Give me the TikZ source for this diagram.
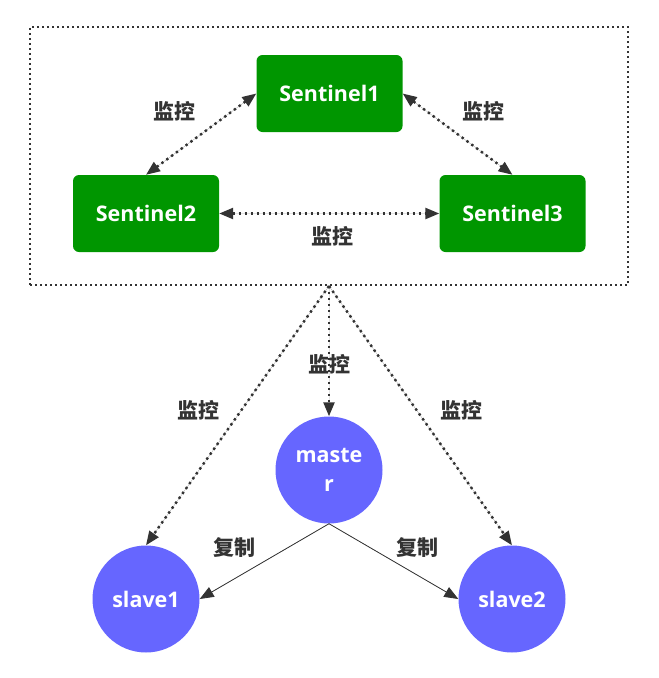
\documentclass[tikz,border=0pt]{standalone}
\usepackage{fontspec}
\setmainfont{Open Sans}
\newfontfamily\cjk{Noto Sans CJK SC}
\usetikzlibrary{arrows.meta}
\definecolor{sentgreen}{RGB}{0,150,0}
\definecolor{nodeblue}{RGB}{102,102,255}
\definecolor{ink}{RGB}{51,51,51}
\begin{document}
\begin{tikzpicture}[x=1pt,y=-1pt,
  sentinel/.style={draw=none,fill=sentgreen,rounded corners=6pt,minimum width=146pt,minimum height=77pt,
    text=white,font=\fontsize{21.5}{24}\selectfont\bfseries,inner sep=0pt},
  redis/.style={circle,fill=nodeblue,minimum size=107pt,inner sep=0pt,text=white,
    font=\fontsize{21.5}{29}\selectfont\bfseries,align=center},
  frame/.style={draw=ink,line width=2pt,dash pattern=on 2pt off 3pt,minimum width=598pt,minimum height=258pt,inner sep=0pt},
  tip/.style={-{Triangle[length=14pt,width=11pt]}},
  twotip/.style={{Triangle[length=14pt,width=11pt]}-{Triangle[length=14pt,width=11pt]}},
  monitor/.style={draw=ink,fill=ink,line width=2.4pt,dash pattern=on 2.4pt off 3.6pt},
  copyline/.style={draw=ink,fill=ink,line width=0.8pt},
  lbl/.style={text=ink,font=\cjk\fontsize{21}{24}\selectfont\bfseries,inner sep=0pt}]
\useasboundingbox (0,0) rectangle (659,678);

% Sentinel group
\node[frame] (box) at (329,156) {};
\node[sentinel] (s1) at (329.5,93.5) {Sentinel1};
\node[sentinel] (s2) at (146,213.5) {Sentinel2};
\node[sentinel] (s3) at (512.5,213.5) {Sentinel3};

% Data nodes
\node[redis] (master) at (329,470) {maste\\r};
\node[redis] (sl1) at (146,599) {slave1};
\node[redis] (sl2) at (512,599) {slave2};

% Sentinels watching each other
\draw[monitor,twotip] (s1.west) -- (s2.north);
\draw[monitor,twotip] (s1.east) -- (s3.north);
\draw[monitor,twotip] (s2.east) -- (s3.west);

% Sentinels watching the data nodes
\draw[monitor,tip] (box.south) -- (master.north);
\draw[monitor,tip] (box.south) -- (sl1.north);
\draw[monitor,tip] (box.south) -- (sl2.north);

% Replication
\draw[copyline,tip] (master.south) -- (sl1.east);
\draw[copyline,tip] (master.south) -- (sl2.west);

% Labels
\node[lbl] (l12) at (174,111) {监控};
\node[lbl] (l13) at (483,111) {监控};
\node[lbl] (l23) at (332,236) {监控};
\node[lbl] (lm) at (329,364) {监控};
\node[lbl] (ls1) at (198,410) {监控};
\node[lbl] (ls2) at (461,410) {监控};
\node[lbl] (c1) at (234,548) {复制};
\node[lbl] (c2) at (417,548) {复制};
\end{tikzpicture}
\end{document}
